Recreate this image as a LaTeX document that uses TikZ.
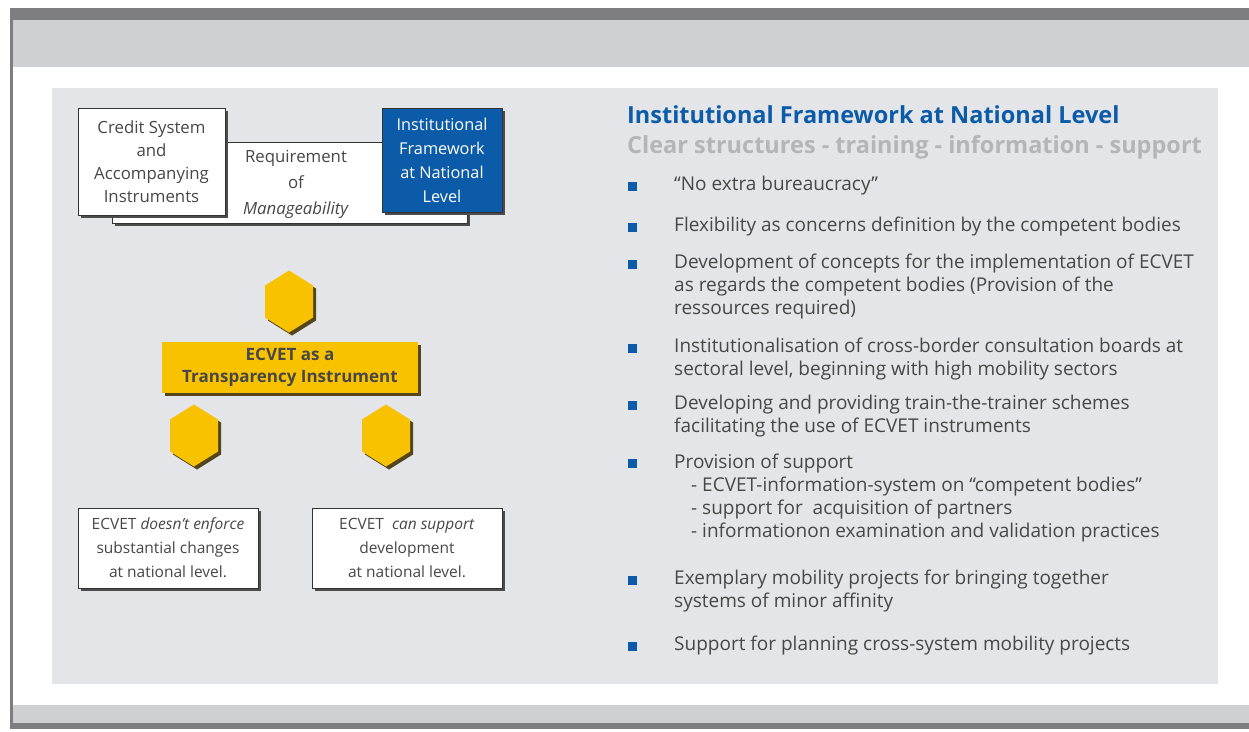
\documentclass[tikz,border=0pt]{standalone}
\usepackage{fontspec}
\setmainfont{Open Sans}
\usetikzlibrary{positioning, shadows}

\definecolor{framedark}{HTML}{7E7D82}
\definecolor{framelight}{HTML}{CFD0D4}
\definecolor{panelgray}{HTML}{E3E5E8}
\definecolor{ecvblue}{HTML}{0B5BA8}
\definecolor{ecvyellow}{HTML}{F9C200}
\definecolor{ecvtext}{HTML}{474747}
\definecolor{subgray}{HTML}{B3B5B9}
\definecolor{hexshade}{HTML}{54461A}

\tikzset{
  boxshadow/.style={drop shadow={shadow xshift=3pt, shadow yshift=-3pt, fill=black!70, opacity=1}},
  whitebox/.style={draw=black!80, fill=white, line width=0.8pt, align=center, text=ecvtext,
    font=\fontsize{16.8}{23}\selectfont, inner sep=0pt, boxshadow},
  bluebox/.style={whitebox, fill=ecvblue, text=white, font=\fontsize{16.3}{24}\selectfont},
  yellowbox/.style={fill=ecvyellow, align=center, text=ecvtext, inner sep=0pt,
    font=\bfseries\fontsize{17}{22}\selectfont,
    drop shadow={shadow xshift=3pt, shadow yshift=-3pt, fill=hexshade, opacity=1}},
  bulletsq/.style={fill=ecvblue, minimum size=9pt, inner sep=0pt},
  bullettext/.style={anchor=west, align=left, text=ecvtext, inner sep=0pt,
    font=\fontsize{19}{23}\selectfont},
}

% hexagon with pointy top, centre at (#1,#2)
\newcommand{\ecvhex}[2]{%
  \begin{scope}[shift={(#1,#2)}]
    \fill[hexshade] (3,-28) -- (27,-13) -- (27,19) -- (3,34) -- (-21,19) -- (-21,-13) -- cycle;
    \fill[ecvyellow] (0,-31) -- (24,-16) -- (24,16) -- (0,31) -- (-24,16) -- (-24,-16) -- cycle;
  \end{scope}}

\begin{document}
\begin{tikzpicture}[x=1pt, y=-1pt]
\useasboundingbox (0,0) rectangle (1249,731);

% frame and panel
\fill[framedark] (10,8) rectangle (1249,20);
\fill[framelight] (10,20) rectangle (1249,67);
\fill[framelight] (10,705) rectangle (1249,723);
\fill[framedark] (10,723) rectangle (1249,729);
\fill[framedark] (10,8) rectangle (13,729);
\fill[panelgray] (52,88) rectangle (1218,684);

% top row of boxes
\node[whitebox, minimum width=355pt, minimum height=81pt] (reqbox) at (289.5,182.5) {};
\node[align=center, text=ecvtext, font=\fontsize{16.8}{26}\selectfont] (req) at (296,184)
  {Requirement\\of\\\textit{Manageability}};
\node[whitebox, minimum width=147pt, minimum height=107pt] (credit) at (151.5,161.5)
  {Credit System\\and\\Accompanying\\Instruments};
\node[bluebox, minimum width=120pt, minimum height=104pt] (inst) at (442,160)
  {Institutional\\Framework\\at National\\Level};

% transparency instrument
\ecvhex{289}{301.5}
\node[yellowbox, minimum width=256pt, minimum height=51pt] (ecvet) at (290,367.5)
  {ECVET as a\\Transparency Instrument};
\ecvhex{194}{435.5}
\ecvhex{386}{435.5}

% bottom boxes
\node[whitebox, minimum width=180pt, minimum height=80pt, font=\fontsize{15.5}{24}\selectfont] (enforce) at (168,548)
  {ECVET \textit{doesn't enforce}\\substantial changes\\at national level.};
\node[whitebox, minimum width=190pt, minimum height=80pt, font=\fontsize{15.5}{24}\selectfont] (support) at (407,548)
  {ECVET~~\textit{can support}\\development\\at national level.};

% right column
\node[anchor=west, inner sep=0pt, text=ecvblue, font=\bfseries\fontsize{23.5}{24}\selectfont] (title) at (627,115)
  {Institutional Framework at National Level};
\node[anchor=west, inner sep=0pt, text=subgray, font=\bfseries\fontsize{23.5}{24}\selectfont] (subtitle) at (627,147)
  {Clear structures - training - information - support};

\foreach \n/\yb/\yt/\txt in {
  1/186/186/{“No extra bureaucracy”},
  2/227/227/{Flexibility as concerns definition by the competent bodies},
  3/264/286.5/{Development of concepts for the implementation of ECVET\\as regards the competent bodies (Provision of the\\ressources required)},
  4/348/359.5/{Institutionalisation of cross-border consultation boards at\\sectoral level, beginning with high mobility sectors},
  5/405/416.5/{Developing and providing train-the-trainer schemes\\facilitating the use of ECVET instruments},
  6/463/498.5/{Provision of support\\\hspace*{17pt}- ECVET-information-system on “competent bodies”\\\hspace*{17pt}- support for\ \ acquisition of partners\\\hspace*{17pt}- informationon examination and validation practices},
  7/580/591.5/{Exemplary mobility projects for bringing together\\systems of minor affinity},
  8/646/646/{Support for planning cross-system mobility projects}}{
  \node[bulletsq] (sq\n) at (632,\yb) {};
  \node[bullettext] (item\n) at (674,\yt) {\txt};
}
\end{tikzpicture}
\end{document}
